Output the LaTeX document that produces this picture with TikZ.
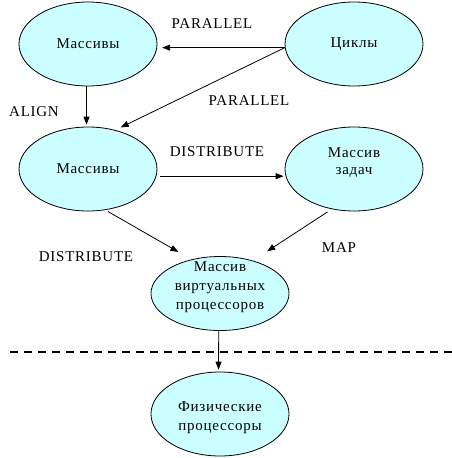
\documentclass[tikz,border=0pt]{standalone}
\usepackage{fontspec}
\setmainfont{Liberation Serif}[LetterSpace=5]
\usetikzlibrary{shapes.geometric,arrows.meta}
\definecolor{ellfill}{HTML}{CCFFFF}
\newcommand{\mlines}[2]{\raisebox{#1}[0pt][0pt]{\begin{tabular}{@{}c@{}}#2\end{tabular}}}
\tikzset{
  ell/.style={ellipse, draw=black, line width=0.8pt, fill=ellfill, minimum width=138pt, minimum height=84pt, inner sep=0pt, align=center, font=\fontsize{15}{17.5}\selectfont},
  conn/.style={line width=0.8pt, -{Triangle[length=8pt,width=6pt]}},
  lbl/.style={font=\fontsize{15}{18}\selectfont, inner sep=0pt}
}
\begin{document}
\begin{tikzpicture}[x=1pt,y=-1pt]
\useasboundingbox (0,0) rectangle (452,458);
\node[ell] (m1) at (88,44) {Массивы};
\node[ell] (cyc) at (354,44) {Циклы};
\node[ell] (m2) at (88,169) {Массивы};
\node[ell] (task) at (354,169) {\mlines{3pt}{Массив\\[0pt]задач}};
\node[ell, minimum height=74pt] (virt) at (220,293.5) {\mlines{3pt}{Массив\\[1.5pt]виртуальных\\[1.5pt]процессоров}};
\node[ell] (phys) at (220,414) {\mlines{-7.25pt}{Физические\\[1.5pt]процессоры}};
\node[lbl] (l1) at (212,24) {PARALLEL};
\node[lbl] (l2) at (34,112) {ALIGN};
\node[lbl] (l3) at (249,101) {PARALLEL};
\node[lbl] (l4) at (217,152) {DISTRIBUTE};
\node[lbl] (l5) at (86,257) {DISTRIBUTE};
\node[lbl] (l6) at (339,248) {MAP};
\coordinate (dl) at (10,352);
\coordinate (dr) at (452,352);
\draw[line width=2.5pt, dash pattern=on 8pt off 6pt] (dl) -- (dr);
\draw[conn, shorten >=5pt] (cyc.183) -- (m1.357);
\draw[conn, shorten >=6pt] (cyc.183) -- (m2.55);
\draw[conn, shorten >=2pt] (m1.268) -- (m2.92);
\draw[conn, shorten <=4pt, shorten >=2pt] (m2.354) -- (task.186);
\draw[conn, shorten <=3pt, shorten >=15pt] (m2.293) -- (virt.130);
\draw[conn, shorten <=5pt, shorten >=17pt] (task.241) -- (virt.45);
\draw[conn, shorten >=2pt] (virt.268) -- (phys.92);
\end{tikzpicture}
\end{document}
